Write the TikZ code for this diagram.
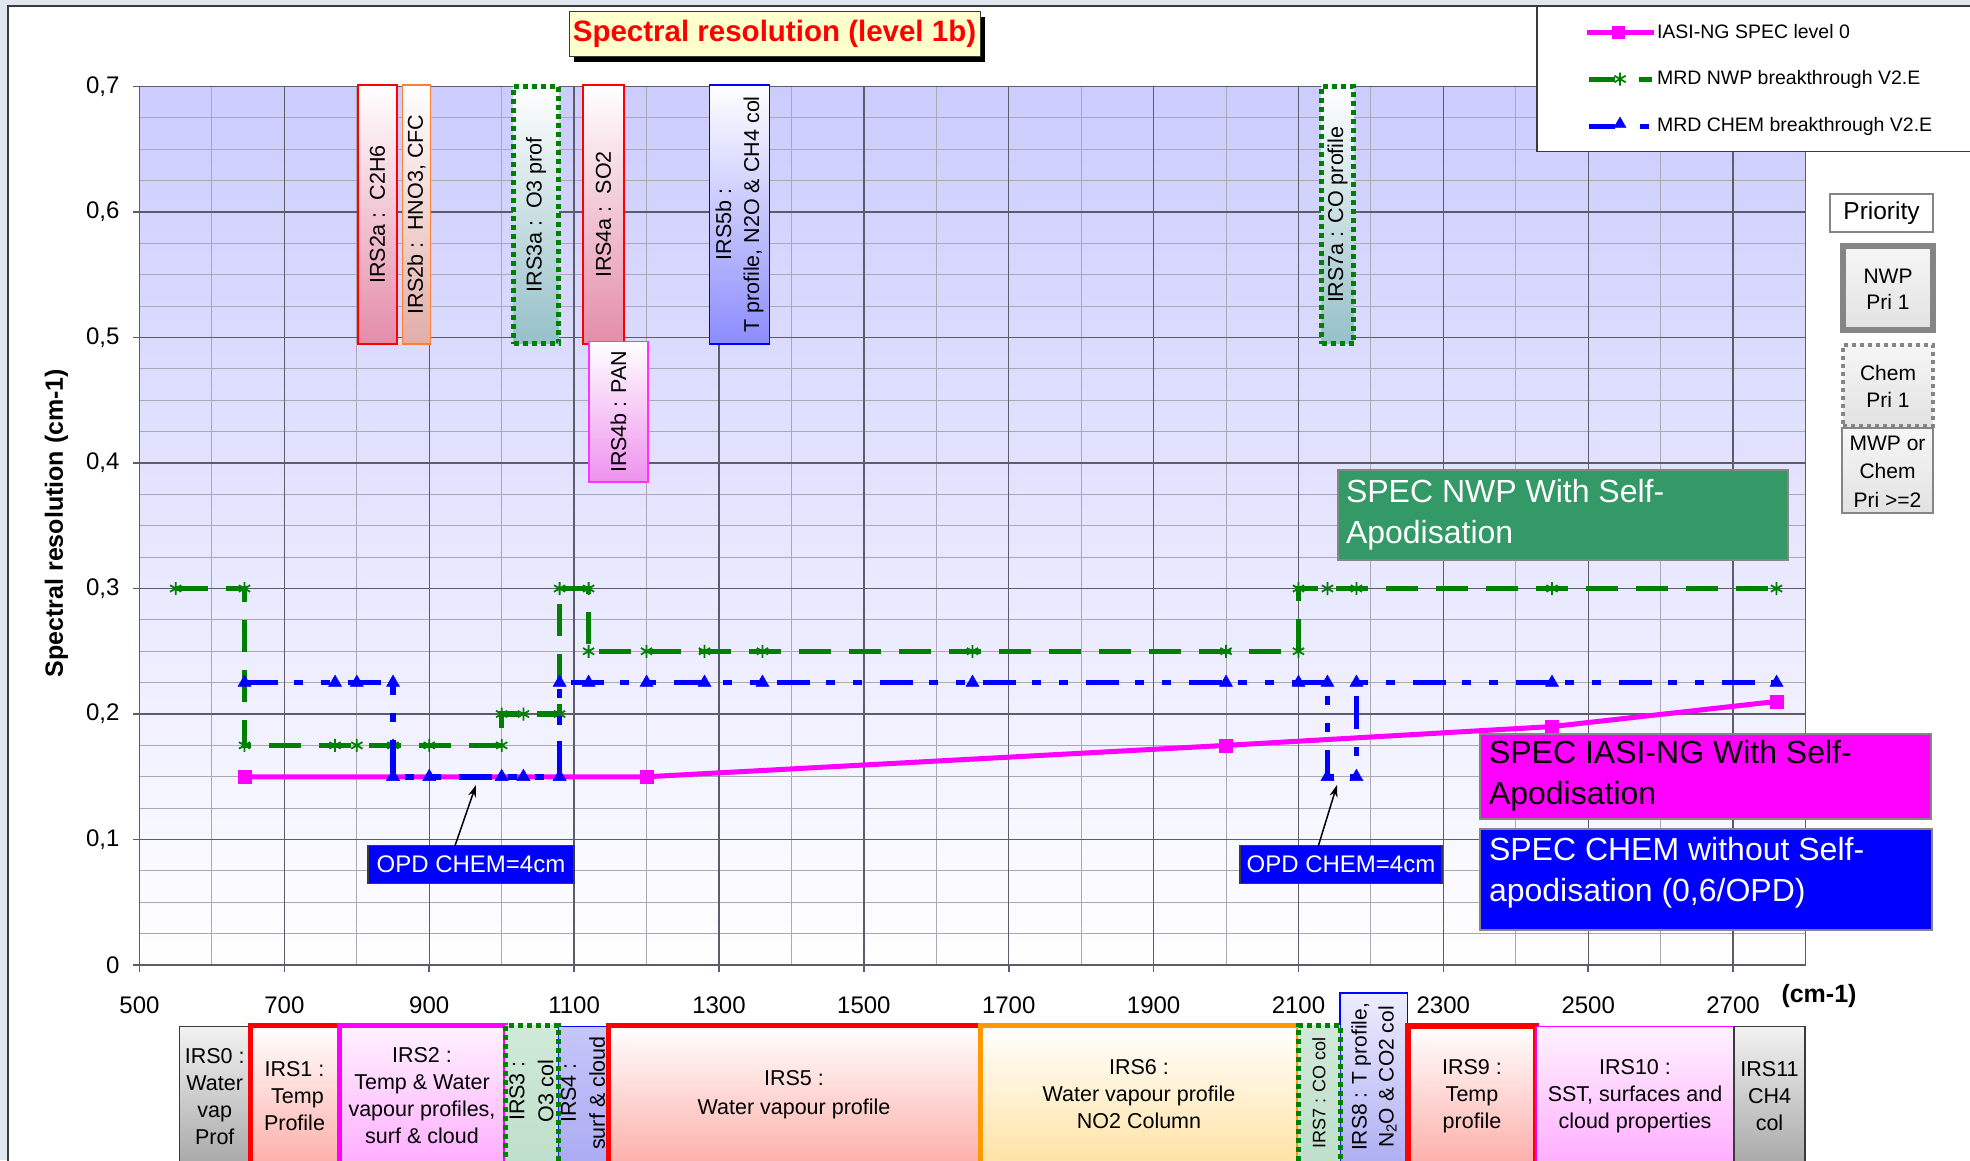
\documentclass[tikz,border=0pt]{standalone}
\usepackage{fontspec}
\setmainfont{Liberation Sans}
\usetikzlibrary{plotmarks,arrows.meta,shadows}
\newcommand{\myfs}[2]{\fontsize{#1}{#2}\selectfont}
\definecolor{pagebg}{HTML}{DFE6EF}
\definecolor{gridmaj}{HTML}{5C5C6A}
\definecolor{gridmin}{HTML}{A9A9B6}
\definecolor{nwpgreen}{HTML}{008000}
\definecolor{chemblue}{HTML}{0000FF}
\definecolor{iasipink}{HTML}{FF00FF}
\definecolor{plottop}{HTML}{CCCCFF}
\definecolor{titlefill}{HTML}{FFFFCC}
\definecolor{nwpbox}{HTML}{339966}
\definecolor{framegray}{HTML}{858585}
\definecolor{darkline}{HTML}{3A3A3A}
\definecolor{orangeb}{HTML}{FF9900}
\definecolor{orangetb}{HTML}{FF8030}
\definecolor{pinkbot}{HTML}{E48CAA}
\definecolor{salmbot}{HTML}{E2ADA8}
\definecolor{tealbot}{HTML}{96C0C8}
\definecolor{magbot}{HTML}{EE92EE}
\definecolor{bluebot}{HTML}{8C8CFF}
\definecolor{redbot}{HTML}{FCA6A0}
\definecolor{magbandbot}{HTML}{FFA6FF}
\definecolor{magbandtop}{HTML}{FFF2FF}
\definecolor{graybot}{HTML}{A0A0A0}
\definecolor{graytop}{HTML}{F2F2F2}
\definecolor{greenband}{HTML}{BCDEC8}
\definecolor{greenbandtop}{HTML}{D0E9D8}
\definecolor{lavtop}{HTML}{C6C6FA}
\definecolor{lavtopb}{HTML}{EDEDFF}
\definecolor{lavbot}{HTML}{A8A8F2}
\definecolor{orbot}{HTML}{FFDF9A}
\definecolor{prtop}{HTML}{F6F6F6}
\definecolor{prbot}{HTML}{E2E2E2}
\definecolor{magborder}{HTML}{FF33FF}
\tikzset{
  every node/.style={inner sep=0pt, outer sep=0pt},
  datacs/.style={shift={(-222.675,965)}, x=0.72435pt, y=1255pt},
  gmaj/.style={draw=gridmaj, line width=1.3pt},
  gmin/.style={draw=gridmin, line width=1pt},
  nwpline/.style={draw=nwpgreen, line width=5.5pt, dash pattern=on 32pt off 18pt,
    mark=asterisk, mark size=6.5pt, mark options={solid, draw=nwpgreen, line width=1.8pt}},
  chemline/.style={draw=chemblue, line width=5.5pt,
    dash pattern=on 33pt off 16pt on 9pt off 18pt on 9pt off 18pt,
    mark=triangle*, mark size=7.5pt, mark options={solid, fill=chemblue, draw=chemblue, line width=0.5pt}},
  iasiline/.style={draw=iasipink, line width=5pt,
    mark=square*, mark size=6.5pt, mark options={solid, fill=iasipink, draw=iasipink, line width=0.5pt}},
  ticklab/.style={font=\myfs{24}{28}},
  topbox/.style={line width=1.5pt, top color=white},
  dotbox/.style={draw=nwpgreen, line width=5pt, dash pattern=on 5pt off 4pt, top color=white},
  boxtxt/.style={font=\myfs{21.5}{28}, align=center},
  band/.style={anchor=north west},
  bandtxt/.style={font=\myfs{21.5}{27}, align=center},
  opd/.style={draw=darkline, line width=1.5pt, fill=chemblue, text=white, font=\myfs{24}{28}, minimum height=37.7pt},
  arr/.style={-{Stealth[length=12pt,width=8pt]}, line width=1.5pt, black},
  specbox/.style={draw=framegray, line width=1.5pt},
  spectxt/.style={anchor=west, align=left, font=\myfs{32}{41}},
  legtxt/.style={anchor=west, font=\myfs{19.5}{23}},
  pritxt/.style={font=\myfs{21}{26}, align=center}
}
\begin{document}
\begin{tikzpicture}[x=1pt,y=-1pt]
\useasboundingbox (0,0) rectangle (1970,1160);
\clip (0,0) rectangle (1970,1160);
\fill[pagebg] (0,0) rectangle (1970,1160);
\draw[darkline,line width=1.2pt,fill=white] (8,6) rectangle (1990,1180);

% plot background
\shade[top color=plottop, bottom color=white] (139.5,86.5) rectangle (1805.5,965);

\begin{scope}[datacs]
  \foreach \i in {1,...,27} \draw[gmin] (500,{\i/40}) -- (2800,{\i/40});
  \foreach \x in {600,800,...,2600} \draw[gmin] (\x,0) -- (\x,0.7);
  \foreach \i in {1,...,6} \draw[gmaj] (500,{\i/10}) -- (2800,{\i/10});
  \foreach \x in {700,900,...,2700} \draw[gmaj] (\x,0) -- (\x,0.7);
  \draw[gmaj, line width=1.6pt] (500,0) rectangle (2800,0.7);
  \foreach \i in {0,...,7} \draw[gmaj, line width=1.6pt] (500,{\i/10}) -- ++(-7pt,0pt);
  \foreach \x in {500,700,...,2700} {
    \draw[gmaj, line width=1.6pt] (\x,0) -- ++(0pt,-7pt);
    \node[ticklab] (xl\x) at ([yshift=-40pt]\x,0) {\x};
  }
  \node[ticklab, anchor=east] (yl7) at ([xshift=-20pt]500,0.7) {0,7};
  \node[ticklab, anchor=east] (yl6) at ([xshift=-20pt]500,0.6) {0,6};
  \node[ticklab, anchor=east] (yl5) at ([xshift=-20pt]500,0.5) {0,5};
  \node[ticklab, anchor=east] (yl4) at ([xshift=-20pt]500,0.4) {0,4};
  \node[ticklab, anchor=east] (yl3) at ([xshift=-20pt]500,0.3) {0,3};
  \node[ticklab, anchor=east] (yl2) at ([xshift=-20pt]500,0.2) {0,2};
  \node[ticklab, anchor=east] (yl1) at ([xshift=-20pt]500,0.1) {0,1};
  \node[ticklab, anchor=east] (yl0) at ([xshift=-20pt]500,0) {0};
\end{scope}

% axis titles
\node[rotate=90, font=\myfs{25}{30}\bfseries] (ytitle) at (56.5,523) {Spectral resolution (cm-1)};
\node[font=\myfs{25}{30}\bfseries] (xunit) at (1819,996) {(cm-1)};

% title
\node[draw=darkline, line width=1pt, fill=titlefill, minimum width=411pt, minimum height=45pt,
  drop shadow={shadow xshift=5pt, shadow yshift=-5pt, fill=black, opacity=1},
  font=\myfs{29.5}{35}\bfseries, text=red] (title) at (774.5,34) {Spectral resolution (level 1b)};

% top vertical boxes
\node[topbox, draw=red, bottom color=pinkbot, minimum width=39pt, minimum height=259pt] (b2a) at (377.5,214.5) {};
\node[boxtxt, rotate=90] (t2a) at (b2a.center) {IRS2a :\ \ C2H6};
\node[topbox, draw=orangetb, bottom color=salmbot, minimum width=28pt, minimum height=259pt] (b2b) at (416.5,214.5) {};
\node[boxtxt, rotate=90] (t2b) at (b2b.center) {IRS2b :\ \ HNO3, CFC};
\node[dotbox, bottom color=tealbot, minimum width=45pt, minimum height=257.5pt] (b3a) at (536,214.75) {};
\node[boxtxt, rotate=90] (t3a) at (b3a.center) {IRS3a :\ \ O3 prof};
\node[topbox, draw=red, bottom color=pinkbot, minimum width=41pt, minimum height=259pt] (b4a) at (603.5,214.5) {};
\node[boxtxt, rotate=90] (t4a) at (b4a.center) {IRS4a :\ \ SO2};
\node[topbox, draw=magborder, bottom color=magbot, minimum width=59pt, minimum height=140.5pt] (b4b) at (618.5,411.75) {};
\node[boxtxt, rotate=90] (t4b) at (b4b.center) {IRS4b : PAN};
\node[topbox, draw=chemblue, bottom color=bluebot, minimum width=60pt, minimum height=259pt] (b5b) at (739.5,214.5) {};
\node[boxtxt, rotate=90] (t5b) at (b5b.center) {IRS5b :\hspace*{20pt}\\T profile, N2O \& CH4 col};
\node[dotbox, bottom color=tealbot, minimum width=32pt, minimum height=257.5pt] (b7a) at (1337.5,214.75) {};
\node[boxtxt, rotate=90] (t7a) at (b7a.center) {IRS7a : CO profile};

% data series
\begin{scope}[datacs]
  \draw[iasiline] plot coordinates {(645,0.15) (1200,0.15) (2000,0.175) (2450,0.19) (2760,0.21)};
  \draw[nwpline] plot coordinates {(550,0.3) (645,0.3) (645,0.175) (770,0.175) (800,0.175) (850,0.175)
    (900,0.175) (1000,0.175) (1000,0.2) (1030,0.2) (1080,0.2) (1080,0.3) (1120,0.3) (1120,0.25)
    (1200,0.25) (1280,0.25) (1360,0.25) (1650,0.25) (2000,0.25) (2100,0.25) (2100,0.3) (2140,0.3)
    (2180,0.3) (2450,0.3) (2760,0.3)};
  \draw[chemline] plot coordinates {(645,0.225) (770,0.225) (800,0.225) (850,0.225) (850,0.15)
    (900,0.15) (1000,0.15) (1030,0.15) (1080,0.15) (1080,0.225) (1120,0.225) (1200,0.225)
    (1280,0.225) (1360,0.225) (1650,0.225) (2000,0.225) (2100,0.225) (2140,0.225) (2140,0.15)
    (2180,0.15) (2180,0.225) (2450,0.225) (2760,0.225)};
\end{scope}

% OPD labels
\node[opd, minimum width=206pt] (opd1) at (471,864.5) {OPD CHEM=4cm};
\coordinate (opd1tip) at (476,785);
\draw[arr] ([xshift=-16pt]opd1.north) -- (opd1tip);
\node[opd, minimum width=202pt] (opd2) at (1341,864.5) {OPD CHEM=4cm};
\coordinate (opd2tip) at (1337,785);
\draw[arr] ([xshift=-22.6pt]opd2.north) -- (opd2tip);

% SPEC boxes
\node[specbox, fill=nwpbox, minimum width=450pt, minimum height=90pt] (nwpb) at (1563,515) {};
\node[spectxt, text=white] (nwpt) at (1346,514.5) {SPEC NWP With Self-\\Apodisation};
\node[specbox, fill=iasipink, minimum width=451pt, minimum height=85pt] (iasib) at (1705.5,776.5) {};
\node[spectxt, text=black] (iasit) at (1489,775.75) {SPEC IASI-NG With Self-\\Apodisation};
\node[specbox, fill=chemblue, minimum width=452pt, minimum height=101pt] (chemb) at (1706,879.5) {};
\node[spectxt, text=white] (chemt) at (1489,872.5) {SPEC CHEM without Self-\\apodisation (0,6/OPD)};

% legend
\node[draw=darkline, line width=1.5pt, fill=white, anchor=north west, minimum width=460pt, minimum height=145pt] (leg) at (1537,6.5) {};
\coordinate (lp1) at (1587,32); \coordinate (lp2) at (1654,32);
\draw[iasipink, line width=5pt] (lp1) -- (lp2);
\draw plot[only marks, mark=square*, mark size=6pt, mark options={fill=iasipink, draw=iasipink}] coordinates {(1618,32)};
\node[legtxt] (leg1) at (1657,32) {IASI-NG SPEC level 0};
\coordinate (lg1) at (1589,79); \coordinate (lg2) at (1615,79);
\coordinate (lg3) at (1639,79); \coordinate (lg4) at (1652,79);
\draw[nwpgreen, line width=5pt] (lg1) -- (lg2) (lg3) -- (lg4);
\draw plot[only marks, mark=asterisk, mark size=6.5pt, mark options={draw=nwpgreen, line width=1.8pt}] coordinates {(1620,79)};
\node[legtxt] (leg2) at (1657,79) {MRD NWP breakthrough V2.E};
\coordinate (lb1) at (1589,126); \coordinate (lb2) at (1615,126);
\coordinate (lb3) at (1640,126); \coordinate (lb4) at (1649,126);
\draw[chemblue, line width=5pt] (lb1) -- (lb2) (lb3) -- (lb4);
\draw plot[only marks, mark=triangle*, mark size=7pt, mark options={fill=chemblue, draw=chemblue}] coordinates {(1620,124)};
\node[legtxt] (leg3) at (1657,126) {MRD CHEM breakthrough V2.E};

% priority
\node[draw=framegray, line width=1.2pt, fill=white, minimum width=103pt, minimum height=38pt, font=\myfs{24.5}{28}] (prio) at (1881.5,213) {Priority};
\node[draw=framegray, line width=6pt, top color=prtop, bottom color=prbot, minimum width=90pt, minimum height=84.6pt] (pnwp) at (1888,288) {};
\node[pritxt] (pnwpt) at (1888,289) {NWP\\Pri 1};
\node[draw=framegray, line width=4pt, dash pattern=on 4pt off 4pt, top color=prtop, bottom color=prbot, minimum width=90pt, minimum height=81pt] (pchem) at (1888,385.5) {};
\node[pritxt, font=\myfs{21}{27}] (pchemt) at (1888,386.5) {Chem\\Pri 1};
\node[draw=framegray, line width=1.5pt, top color=prtop, bottom color=prbot, minimum width=91pt, minimum height=85pt] (poth) at (1887.5,470.5) {};
\node[pritxt, font=\myfs{21}{28.5}] (potht) at (1887.5,471.5) {MWP or\\Chem\\Pri >=2};

% bottom bands
\node[band, draw=darkline, line width=1.5pt, top color=graytop, bottom color=graybot, minimum width=70.5pt, minimum height=154pt] (irs0) at (179.5,1026.5) {};
\node[bandtxt] (irs0t) at (214.75,1097) {IRS0 :\\Water\\vap\\Prof};
\node[band, draw=red, line width=5pt, top color=white, bottom color=redbot, minimum width=89pt, minimum height=154.5pt] (irs1) at (250,1025.5) {};
\node[bandtxt] (irs1t) at (294.5,1096) {IRS1 :\\\ Temp\\Profile};
\node[band, draw=iasipink, line width=5pt, top color=magbandtop, bottom color=magbandbot, minimum width=166pt, minimum height=154.5pt] (irs2) at (339,1025.5) {};
\node[bandtxt] (irs2t) at (422,1096) {IRS2 :\\Temp \& Water\\vapour profiles,\\surf \& cloud};
\node[band, draw=chemblue, line width=1.5pt, top color=lavtop, bottom color=lavbot, minimum width=50pt, minimum height=153.5pt] (irs4) at (558,1026.5) {};
\node[bandtxt, rotate=90, font=\myfs{21.5}{29}] (irs4t) at (583,1093) {IRS4 :\\surf \& cloud};
\node[band, draw=nwpgreen, line width=5pt, dash pattern=on 5pt off 4pt, top color=greenbandtop, bottom color=greenband, minimum width=53pt, minimum height=154.5pt] (irs3) at (505,1025.5) {};
\node[bandtxt, rotate=90, font=\myfs{21.5}{29}] (irs3t) at (531.5,1091) {IRS3 :\\O3 col};
\node[band, draw=red, line width=5pt, top color=white, bottom color=redbot, minimum width=372pt, minimum height=154.5pt] (irs5) at (608,1025.5) {};
\node[bandtxt, font=\myfs{21.5}{29}] (irs5t) at (794,1095) {IRS5 :\\Water vapour profile};
\node[band, draw=orangeb, line width=5pt, top color=white, bottom color=orbot, minimum width=318pt, minimum height=154.5pt] (irs6) at (980,1025.5) {};
\node[bandtxt] (irs6t) at (1139,1094) {IRS6 :\\Water vapour profile\\NO2 Column};
\node[band, draw=chemblue, line width=1.5pt, top color=lavtopb, bottom color=lavbot, minimum width=67.7pt, minimum height=187pt] (irs8) at (1340,993) {};
\node[bandtxt, rotate=90, font=\myfs{21}{27}] (irs8t) at (1374,1077) {IRS8 : T profile,\\N\textsubscript{2}O \& CO2 col};
\node[band, draw=nwpgreen, line width=5pt, dash pattern=on 5pt off 4pt, top color=greenbandtop, bottom color=greenband, minimum width=42pt, minimum height=154.5pt] (irs7) at (1298,1025.5) {};
\node[bandtxt, rotate=90, font=\myfs{18}{22}] (irs7t) at (1319,1093) {IRS7 : CO col};
\node[band, draw=red, line width=6pt, top color=white, bottom color=redbot, minimum width=128.3pt, minimum height=154.5pt] (irs9) at (1407.7,1025.5) {};
\node[bandtxt] (irs9t) at (1472,1096) {IRS9 :\\Temp\\profile};
\node[band, draw=iasipink, line width=1.5pt, top color=magbandtop, bottom color=magbandbot, minimum width=198pt, minimum height=153.5pt] (irs10) at (1536,1026.5) {};
\node[bandtxt] (irs10t) at (1635,1096) {IRS10 :\\SST, surfaces and\\cloud properties};
\node[band, draw=darkline, line width=1.5pt, top color=graytop, bottom color=graybot, minimum width=71pt, minimum height=153.5pt] (irs11) at (1734,1026.5) {};
\node[bandtxt] (irs11t) at (1769.5,1096) {IRS11\\CH4\\col};
\end{tikzpicture}
\end{document}
